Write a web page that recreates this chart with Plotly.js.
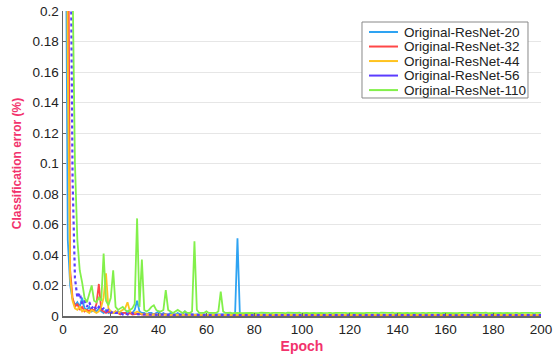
<!DOCTYPE html>
<html>
<head>
<meta charset="utf-8">
<script src="https://cdn.plot.ly/plotly-3.0.1.min.js"></script>
<style>
  html, body { margin: 0; padding: 0; background: #fff; }
  #chart { width: 555px; height: 356px; }
</style>
</head>
<body>
<div id="chart"></div>
<script>
// Test classification error per epoch (epochs 0..200) for the plain ResNet baselines.
const seriesNames = ['Original-ResNet-20', 'Original-ResNet-32', 'Original-ResNet-44', 'Original-ResNet-56', 'Original-ResNet-110'];
const seriesColors = ['#2ea3f2', '#ff4747', '#ffc31f', '#5b3cff', '#82f04a'];

const resnet20 = [
  0.9, 0.32, 0.05, 0.02, 0.011, 0.007, 0.009, 0.006, 0.012, 0.005,
  0.004, 0.006, 0.003, 0.004, 0.003, 0.005, 0.003, 0.002, 0.004, 0.002,
  0.003, 0.002, 0.002, 0.003, 0.002, 0.002, 0.002, 0.003, 0.002, 0.002,
  0.004, 0.01, 0.003, 0.002, 0.002, 0.001, 0.002, 0.002, 0.001, 0.002,
  0.003, 0.001, 0.002, 0.001, 0.001, 0.002, 0.001, 0.001, 0.002, 0.001,
  0.001, 0.003, 0.001, 0.0012, 0.001, 0.0009, 0.0011, 0.001, 0.0009, 0.0012,
  0.001, 0.0009, 0.0011, 0.001, 0.0012, 0.0009, 0.001, 0.0011, 0.0009, 0.001,
  0.0011, 0.001, 0.0012, 0.051, 0.0012, 0.0009, 0.001, 0.0008, 0.0009, 0.001,
  0.0008, 0.0009, 0.0007, 0.0009, 0.0008, 0.001, 0.0008, 0.0007, 0.0009, 0.0008,
  0.0009, 0.0007, 0.0008, 0.0009, 0.0008, 0.0007, 0.0009, 0.0008, 0.001, 0.0008,
  0.0007, 0.0009, 0.0008, 0.0008, 0.0009, 0.0007, 0.0008, 0.0009, 0.0008, 0.0007,
  0.0008, 0.0009, 0.0007, 0.0008, 0.0009, 0.0008, 0.0007, 0.0009, 0.0008, 0.0008,
  0.0009, 0.0007, 0.0008, 0.0009, 0.0008, 0.0007, 0.0008, 0.0009, 0.0007, 0.0008,
  0.0008, 0.0009, 0.0008, 0.0007, 0.0009, 0.0008, 0.0008, 0.0007, 0.0009, 0.0008,
  0.0007, 0.0008, 0.0009, 0.0008, 0.0007, 0.0008, 0.0009, 0.0008, 0.0008, 0.0007,
  0.0009, 0.0008, 0.0007, 0.0008, 0.0009, 0.0008, 0.0007, 0.0009, 0.0008, 0.0008,
  0.0008, 0.0007, 0.0009, 0.0008, 0.0008, 0.0009, 0.0007, 0.0008, 0.0009, 0.0008,
  0.0007, 0.0008, 0.0008, 0.0009, 0.0007, 0.0008, 0.0009, 0.0008, 0.0007, 0.0008,
  0.0009, 0.0008, 0.0007, 0.0008, 0.0008, 0.0009, 0.0008, 0.0007, 0.0008, 0.0009,
  0.0008, 0.0007, 0.0008, 0.0009, 0.0008, 0.0008, 0.0007, 0.0009, 0.0008, 0.0008,
  0.0008
];

const resnet32 = [
  0.9, 0.6, 0.28, 0.03, 0.012, 0.006, 0.008, 0.004, 0.006, 0.003,
  0.004, 0.003, 0.005, 0.003, 0.008, 0.021, 0.004, 0.003, 0.002, 0.003,
  0.002, 0.002, 0.003, 0.002, 0.001, 0.002, 0.002, 0.001, 0.002, 0.001,
  0.0012, 0.001, 0.0015, 0.001, 0.0009, 0.0012, 0.001, 0.0008, 0.0011, 0.0009,
  0.001, 0.0008, 0.0009, 0.0011, 0.0008, 0.0009, 0.0007, 0.0009, 0.0008, 0.0007,
  0.0008, 0.0007, 0.0009, 0.0007, 0.0008, 0.0006, 0.0008, 0.0007, 0.0006, 0.0008,
  0.0007, 0.0006, 0.0007, 0.0008, 0.0006, 0.0007, 0.0006, 0.0008, 0.0007, 0.0006,
  0.0007, 0.0006, 0.0007, 0.0006, 0.0008, 0.0006, 0.0007, 0.0006, 0.0007, 0.0005,
  0.0006, 0.0007, 0.0005, 0.0006, 0.0007, 0.0006, 0.0005, 0.0006, 0.0007, 0.0006,
  0.0005, 0.0006, 0.0006, 0.0007, 0.0005, 0.0006, 0.0007, 0.0006, 0.0005, 0.0006,
  0.0006, 0.0005, 0.0007, 0.0006, 0.0005, 0.0006, 0.0006, 0.0007, 0.0005, 0.0006,
  0.0007, 0.0006, 0.0005, 0.0006, 0.0006, 0.0005, 0.0007, 0.0006, 0.0006, 0.0005,
  0.0006, 0.0007, 0.0006, 0.0005, 0.0006, 0.0006, 0.0005, 0.0007, 0.0006, 0.0005,
  0.0006, 0.0005, 0.0006, 0.0007, 0.0006, 0.0005, 0.0006, 0.0006, 0.0007, 0.0005,
  0.0006, 0.0006, 0.0005, 0.0006, 0.0007, 0.0006, 0.0005, 0.0006, 0.0006, 0.0005,
  0.0007, 0.0006, 0.0005, 0.0006, 0.0006, 0.0007, 0.0005, 0.0006, 0.0006, 0.0005,
  0.0006, 0.0007, 0.0006, 0.0005, 0.0006, 0.0006, 0.0005, 0.0006, 0.0007, 0.0006,
  0.0005, 0.0006, 0.0006, 0.0007, 0.0005, 0.0006, 0.0006, 0.0005, 0.0007, 0.0006,
  0.0006, 0.0005, 0.0006, 0.0006, 0.0007, 0.0005, 0.0006, 0.0006, 0.0005, 0.0006,
  0.0007, 0.0006, 0.0005, 0.0006, 0.0006, 0.0005, 0.0007, 0.0006, 0.0006, 0.0005,
  0.0006
];

const resnet44 = [
  0.9, 0.5, 0.16, 0.025, 0.01, 0.005, 0.004, 0.006, 0.003, 0.004,
  0.003, 0.002, 0.004, 0.003, 0.002, 0.003, 0.006, 0.012, 0.028, 0.005,
  0.003, 0.002, 0.003, 0.002, 0.003, 0.004, 0.005, 0.009, 0.003, 0.002,
  0.002, 0.003, 0.002, 0.0012, 0.0015, 0.001, 0.0012, 0.0009, 0.0011, 0.001,
  0.0009, 0.0011, 0.0008, 0.001, 0.0009, 0.0008, 0.001, 0.0008, 0.0009, 0.0008,
  0.0009, 0.0007, 0.0008, 0.0009, 0.0007, 0.0008, 0.0007, 0.0009, 0.0008, 0.0007,
  0.0008, 0.0007, 0.0008, 0.0009, 0.0007, 0.0008, 0.0007, 0.0008, 0.0007, 0.0009,
  0.0007, 0.0008, 0.0007, 0.0008, 0.0007, 0.0008, 0.0009, 0.0007, 0.0008, 0.0007,
  0.0008, 0.0007, 0.0008, 0.0007, 0.0009, 0.0007, 0.0008, 0.0007, 0.0008, 0.0007,
  0.0008, 0.0009, 0.0007, 0.0008, 0.0007, 0.0008, 0.0007, 0.0008, 0.0009, 0.0007,
  0.0008, 0.0007, 0.0008, 0.0007, 0.0008, 0.0009, 0.0007, 0.0008, 0.0007, 0.0008,
  0.0007, 0.0009, 0.0008, 0.0007, 0.0008, 0.0007, 0.0008, 0.0009, 0.0007, 0.0008,
  0.0007, 0.0008, 0.0007, 0.0008, 0.0009, 0.0007, 0.0008, 0.0007, 0.0008, 0.0007,
  0.0009, 0.0008, 0.0007, 0.0008, 0.0007, 0.0008, 0.0007, 0.0009, 0.0008, 0.0007,
  0.0008, 0.0007, 0.0008, 0.0009, 0.0007, 0.0008, 0.0007, 0.0008, 0.0007, 0.0008,
  0.0009, 0.0007, 0.0008, 0.0007, 0.0008, 0.0007, 0.0009, 0.0008, 0.0007, 0.0008,
  0.0007, 0.0008, 0.0007, 0.0008, 0.0009, 0.0007, 0.0008, 0.0007, 0.0008, 0.0007,
  0.0008, 0.0009, 0.0007, 0.0008, 0.0007, 0.0008, 0.0007, 0.0008, 0.0009, 0.0007,
  0.0008, 0.0007, 0.0009, 0.0008, 0.0007, 0.0008, 0.0007, 0.0008, 0.0007, 0.0009,
  0.0008, 0.0007, 0.0008, 0.0007, 0.0008, 0.0009, 0.0007, 0.0008, 0.0007, 0.0008,
  0.0007
];

const resnet56 = [
  0.9, 0.7, 0.5, 0.26, 0.09, 0.025, 0.012, 0.015, 0.008, 0.01,
  0.006, 0.009, 0.005, 0.007, 0.004, 0.006, 0.004, 0.005, 0.003, 0.004,
  0.002, 0.003, 0.002, 0.002, 0.002, 0.001, 0.002, 0.001, 0.001, 0.002,
  0.001, 0.0012, 0.001, 0.0009, 0.0011, 0.001, 0.0008, 0.001, 0.0009, 0.0008,
  0.0009, 0.0008, 0.001, 0.0008, 0.0007, 0.0009, 0.0008, 0.0007, 0.0008, 0.0009,
  0.0007, 0.0008, 0.0007, 0.0008, 0.0009, 0.0007, 0.0008, 0.0007, 0.0008, 0.0007,
  0.0008, 0.0007, 0.0009, 0.0007, 0.0008, 0.0007, 0.0008, 0.0007, 0.0008, 0.0007,
  0.0007, 0.0008, 0.0007, 0.0008, 0.0007, 0.0007, 0.0008, 0.0007, 0.0007, 0.0008,
  0.0007, 0.0007, 0.0008, 0.0007, 0.0007, 0.0008, 0.0007, 0.0007, 0.0008, 0.0007,
  0.0008, 0.0007, 0.0007, 0.0008, 0.0007, 0.0007, 0.0008, 0.0007, 0.0007, 0.0008,
  0.0007, 0.0007, 0.0008, 0.0007, 0.0008, 0.0007, 0.0007, 0.0008, 0.0007, 0.0007,
  0.0008, 0.0007, 0.0007, 0.0008, 0.0007, 0.0007, 0.0008, 0.0007, 0.0008, 0.0007,
  0.0007, 0.0008, 0.0007, 0.0007, 0.0008, 0.0007, 0.0007, 0.0008, 0.0007, 0.0008,
  0.0007, 0.0007, 0.0008, 0.0007, 0.0007, 0.0008, 0.0007, 0.0007, 0.0008, 0.0007,
  0.0008, 0.0007, 0.0007, 0.0008, 0.0007, 0.0007, 0.0008, 0.0007, 0.0007, 0.0008,
  0.0007, 0.0007, 0.0008, 0.0007, 0.0008, 0.0007, 0.0007, 0.0008, 0.0007, 0.0007,
  0.0008, 0.0007, 0.0007, 0.0008, 0.0007, 0.0007, 0.0008, 0.0007, 0.0008, 0.0007,
  0.0007, 0.0008, 0.0007, 0.0007, 0.0008, 0.0007, 0.0007, 0.0008, 0.0007, 0.0008,
  0.0007, 0.0007, 0.0008, 0.0007, 0.0007, 0.0008, 0.0007, 0.0007, 0.0008, 0.0007,
  0.0008, 0.0007, 0.0007, 0.0008, 0.0007, 0.0007, 0.0008, 0.0007, 0.0007, 0.0008,
  0.0007
];

const resnet110 = [
  0.9, 0.8, 0.6, 0.4, 0.22, 0.1, 0.05, 0.03, 0.022, 0.012,
  0.009, 0.014, 0.02, 0.01, 0.009, 0.012, 0.01, 0.041, 0.01, 0.007,
  0.012, 0.03, 0.006, 0.004, 0.005, 0.006, 0.004, 0.003, 0.004, 0.005,
  0.008, 0.064, 0.006, 0.037, 0.004, 0.003, 0.004, 0.006, 0.007, 0.004,
  0.003, 0.003, 0.004, 0.017, 0.004, 0.003, 0.002, 0.003, 0.004, 0.003,
  0.002, 0.003, 0.002, 0.002, 0.003, 0.049, 0.004, 0.002, 0.002, 0.002,
  0.003, 0.002, 0.002, 0.002, 0.002, 0.003, 0.016, 0.003, 0.002, 0.002,
  0.0022, 0.0018, 0.002, 0.0021, 0.0019, 0.002, 0.0022, 0.0019, 0.0021, 0.002,
  0.0018, 0.0021, 0.002, 0.0022, 0.0019, 0.002, 0.0021, 0.0018, 0.002, 0.0022,
  0.0019, 0.0021, 0.002, 0.0018, 0.0022, 0.002, 0.0019, 0.0021, 0.002, 0.0022,
  0.0018, 0.002, 0.0021, 0.0019, 0.0022, 0.002, 0.0018, 0.0021, 0.002, 0.0019,
  0.0022, 0.002, 0.0021, 0.0018, 0.002, 0.0022, 0.0019, 0.0021, 0.002, 0.0018,
  0.0021, 0.002, 0.0022, 0.0019, 0.002, 0.0021, 0.0018, 0.002, 0.0022, 0.0019,
  0.0021, 0.002, 0.0018, 0.0022, 0.002, 0.0019, 0.0021, 0.002, 0.0022, 0.0018,
  0.002, 0.0021, 0.0019, 0.0022, 0.002, 0.0018, 0.0021, 0.002, 0.0019, 0.0022,
  0.002, 0.0021, 0.0018, 0.002, 0.0022, 0.0019, 0.0021, 0.002, 0.0018, 0.0021,
  0.002, 0.0022, 0.0019, 0.002, 0.0021, 0.0018, 0.002, 0.0022, 0.0019, 0.0021,
  0.002, 0.0018, 0.0022, 0.002, 0.0019, 0.0021, 0.002, 0.0022, 0.0018, 0.002,
  0.0021, 0.0019, 0.0022, 0.002, 0.0018, 0.0021, 0.002, 0.0019, 0.0022, 0.002,
  0.0021, 0.0018, 0.002, 0.0022, 0.0019, 0.0021, 0.002, 0.0018, 0.0021, 0.002,
  0.002
];

const seriesValues = [resnet20, resnet32, resnet44, resnet56, resnet110];
const yTickValues = [0, 0.02, 0.04, 0.06, 0.08, 0.1, 0.12, 0.14, 0.16, 0.18, 0.2];
const yTickLabels = ['0', '0.02', '0.04', '0.06', '0.08', '0.1', '0.12', '0.14', '0.16', '0.18', '0.2'];
const xTickValues = [0, 20, 40, 60, 80, 100, 120, 140, 160, 180, 200];

const FONT = 'Liberation Sans, Arial, Helvetica, sans-serif';
const accent = '#f2326c';
const tickFont = { family: FONT, size: 13.5, color: '#222' };

const traces = seriesValues.map((vals, k) => ({
  type: 'scatter',
  mode: 'lines',
  name: seriesNames[k],
  x: vals.map((_, i) => i),
  y: vals,
  showlegend: false,
  line: {
    color: seriesColors[k],
    width: k === 3 ? 2.2 : 1.8,
    dash: k === 3 ? 'dot' : 'solid'
  }
}));

// Compact boxed key in the upper right of the plot area (paper coordinates).
const keyBox = { x0: 0.6255, x1: 0.9728, y0: 0.7148, y1: 0.9639 };
const keyTop = 0.9311, keyStep = 0.0476;
const keyLineX0 = 0.6402, keyLineX1 = 0.7008, keyTextX = 0.7092;

const shapes = [{
  type: 'rect', xref: 'paper', yref: 'paper',
  x0: keyBox.x0, x1: keyBox.x1, y0: keyBox.y0, y1: keyBox.y1,
  line: { color: '#888', width: 1 }, fillcolor: '#ffffff', layer: 'above'
}];
const annotations = [];
seriesNames.forEach((name, k) => {
  const yy = keyTop - k * keyStep;
  shapes.push({
    type: 'line', xref: 'paper', yref: 'paper',
    x0: keyLineX0, x1: keyLineX1, y0: yy, y1: yy,
    line: { color: seriesColors[k], width: 2 }, layer: 'above'
  });
  annotations.push({
    xref: 'paper', yref: 'paper', x: keyTextX, y: yy,
    xanchor: 'left', yanchor: 'middle', showarrow: false,
    text: name, font: { family: FONT, size: 13.5, color: '#222' }
  });
});

const layout = {
  width: 555,
  height: 356,
  margin: { l: 63, r: 14, t: 11, b: 40 },
  paper_bgcolor: '#ffffff',
  plot_bgcolor: '#ffffff',
  showlegend: false,
  font: { family: FONT, color: '#222' },
  xaxis: {
    range: [0, 200],
    tickvals: xTickValues,
    ticktext: xTickValues.map(String),
    showgrid: false,
    zeroline: false,
    showline: true,
    linecolor: '#666',
    linewidth: 1.5,
    ticks: 'inside',
    ticklen: 3,
    tickcolor: '#666',
    tickfont: tickFont,
    title: {
      text: '<b>Epoch</b>',
      font: { family: FONT, size: 14, color: accent },
      standoff: 5
    }
  },
  yaxis: {
    range: [0, 0.2],
    tickvals: yTickValues,
    ticktext: yTickLabels,
    showgrid: true,
    gridcolor: '#e6e6e6',
    gridwidth: 1,
    zeroline: false,
    showline: true,
    linecolor: '#666',
    linewidth: 1.5,
    ticks: 'inside',
    ticklen: 3,
    tickcolor: '#666',
    tickfont: tickFont,
    title: {
      text: '<b>Classification error (%)</b>',
      font: { family: FONT, size: 12, color: accent },
      standoff: 8
    }
  },
  shapes: shapes,
  annotations: annotations
};

Plotly.newPlot('chart', traces, layout, { displayModeBar: false, staticPlot: true });
</script>
</body>
</html>
